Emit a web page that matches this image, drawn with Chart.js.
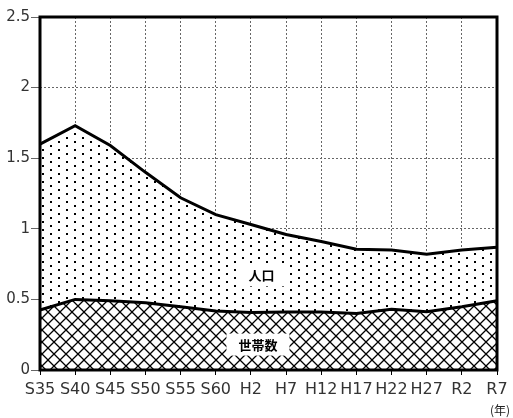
<!DOCTYPE html>
<html>
<head>
<meta charset="utf-8">
<script src="https://cdn.jsdelivr.net/npm/chart.js@4/dist/chart.umd.min.js"></script>
<style>
  html, body { margin: 0; padding: 0; background: #fff; }
  #wrap { width: 513px; height: 418px; }
</style>
</head>
<body>
<div id="wrap"><canvas id="chart" width="513" height="418"></canvas></div>
<script>
const years = ["S35", "S40", "S45", "S50", "S55", "S60", "H2", "H7", "H12", "H17", "H22", "H27", "R2", "R7"];
const population = [1.60, 1.73, 1.59, 1.40, 1.22, 1.10, 1.03, 0.96, 0.91, 0.855, 0.85, 0.82, 0.85, 0.87];
const households = [0.425, 0.50, 0.49, 0.477, 0.448, 0.418, 0.408, 0.41, 0.41, 0.40, 0.43, 0.413, 0.448, 0.49];
const areaLabels = [
  { text: "人口", x: 6.3, y: 0.67 },
  { text: "世帯数", x: 6.2, y: 0.18 },
];
const yTicks = [0, 0.5, 1, 1.5, 2, 2.5];

function dotPattern(ctx) {
  const c = document.createElement("canvas");
  c.width = 16;
  c.height = 8;
  const g = c.getContext("2d");
  g.fillStyle = "#fff";
  g.fillRect(0, 0, 16, 8);
  g.fillStyle = "#000";
  g.fillRect(2, 1, 2, 2);
  g.fillRect(10, 5, 2, 2);
  return ctx.createPattern(c, "repeat");
}

function crossPattern(ctx) {
  const c = document.createElement("canvas");
  c.width = 12;
  c.height = 12;
  const g = c.getContext("2d");
  g.fillStyle = "#fff";
  g.fillRect(0, 0, 12, 12);
  g.strokeStyle = "#000";
  g.lineWidth = 1.3;
  g.beginPath();
  g.moveTo(0, 0);
  g.lineTo(12, 12);
  g.moveTo(12, 0);
  g.lineTo(0, 12);
  g.stroke();
  return ctx.createPattern(c, "repeat");
}

const frameAndLabels = {
  id: "frameAndLabels",
  afterDatasetsDraw(chart) {
    const { ctx, chartArea, scales } = chart;
    ctx.save();
    ctx.font = "bold 13px 'Noto Sans CJK JP', sans-serif";
    ctx.textAlign = "center";
    ctx.textBaseline = "middle";
    areaLabels.forEach((lbl) => {
      const px = scales.x.getPixelForValue(lbl.x);
      const py = scales.y.getPixelForValue(lbl.y);
      const w = ctx.measureText(lbl.text).width;
      ctx.fillStyle = "#fff";
      ctx.fillRect(px - w / 2 - 12, py - 11, w + 24, 22);
      ctx.fillStyle = "#000";
      ctx.fillText(lbl.text, px, py);
    });
    ctx.strokeStyle = "#000";
    ctx.lineWidth = 3;
    ctx.strokeRect(chartArea.left, chartArea.top, chartArea.right - chartArea.left, chartArea.bottom - chartArea.top);
    ctx.font = "12px 'Noto Sans CJK JP', sans-serif";
    ctx.fillStyle = "#222";
    ctx.textAlign = "right";
    ctx.fillText("(年)", 510, 410);
    ctx.restore();
  },
};

const canvas = document.getElementById("chart");
const ctx = canvas.getContext("2d");

new Chart(canvas, {
  type: "line",
  data: {
    labels: years,
    datasets: [
      {
        label: "世帯数",
        data: households,
        borderColor: "#000",
        borderWidth: 3,
        pointRadius: 0,
        tension: 0,
        fill: "origin",
        backgroundColor: crossPattern(ctx),
      },
      {
        label: "人口",
        data: population,
        borderColor: "#000",
        borderWidth: 3,
        pointRadius: 0,
        tension: 0,
        fill: "-1",
        backgroundColor: dotPattern(ctx),
      },
    ],
  },
  options: {
    responsive: false,
    animation: false,
    layout: { padding: { top: 17, right: 16, left: 0, bottom: 0 } },
    plugins: {
      legend: { display: false },
      tooltip: { enabled: false },
    },
    scales: {
      x: {
        offset: false,
        grid: {
          color: "#666",
          tickColor: "#000",
          tickLength: 5,
          tickBorderDash: [],
        },
        border: { display: false, dash: [2, 2] },
        ticks: {
          autoSkip: false,
          maxRotation: 0,
          padding: 5,
          color: "#333",
          font: { family: "'DejaVu Sans', sans-serif", size: 16 },
        },
        afterFit(scale) {
          scale.height = 48;
        },
      },
      y: {
        min: 0,
        max: 2.5,
        afterBuildTicks(scale) {
          scale.ticks = yTicks.map((v) => ({ value: v }));
        },
        grid: {
          color: "#666",
          tickLength: 9,
        },
        border: { display: false, dash: [2, 2] },
        ticks: {
          padding: 1,
          color: "#333",
          font: { family: "'DejaVu Sans', sans-serif", size: 15 },
          callback: (value) => String(value),
        },
        afterFit(scale) {
          scale.width = 40;
        },
      },
    },
  },
  plugins: [frameAndLabels],
});
</script>
</body>
</html>
